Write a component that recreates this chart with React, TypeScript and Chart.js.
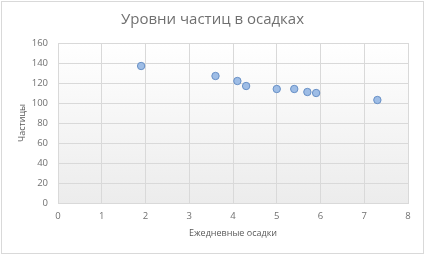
import React, { useEffect, useRef } from "react";
import { Chart, registerables } from "chart.js";

Chart.register(...registerables);

const rainfall = [1.9, 3.6, 4.1, 4.3, 5.0, 5.4, 5.7, 5.9, 7.3];
const particles = [137, 127, 122, 117, 114, 114, 111, 110, 103];
const title = "Уровни частиц в осадках";
const xTitle = "Ежедневные осадки";
const yTitle = "Частицы";

const FONT = "'Open Sans'";

const plotBg = {
  id: "plotBg",
  beforeDraw(chart: any) {
    const { ctx, chartArea } = chart;
    if (!chartArea) return;
    const g = ctx.createLinearGradient(0, chartArea.top, 0, chartArea.bottom);
    g.addColorStop(0, "#ffffff");
    g.addColorStop(1, "#ececec");
    ctx.save();
    ctx.fillStyle = g;
    ctx.fillRect(chartArea.left, chartArea.top, chartArea.right - chartArea.left, chartArea.bottom - chartArea.top);
    ctx.restore();
  },
};

export default function App() {
  const ref = useRef<HTMLCanvasElement>(null);
  useEffect(() => {
    document.body.style.margin = "0";
    const chart = new Chart(ref.current!, {
      type: "scatter",
      data: {
        datasets: [
          {
            data: rainfall.map((x, i) => ({ x, y: particles[i] })),
            pointRadius: 3.7,
            pointHoverRadius: 3.7,
            backgroundColor: "#9ebde6",
            borderColor: "#6890c6",
            borderWidth: 1,
          },
        ],
      },
      options: {
        animation: false,
        responsive: false,
        maintainAspectRatio: false,
        layout: { padding: { left: 17, right: 17, top: 0, bottom: 16 } },
        plugins: {
          legend: { display: false },
          tooltip: { enabled: false },
          title: {
            display: true,
            text: title,
            color: "#707070",
            font: { family: FONT, size: 15, weight: "normal" },
            padding: { top: 11, bottom: 14 },
            lineHeight: 1.2,
          },
        },
        scales: {
          x: {
            type: "linear",
            min: 0,
            max: 8,
            ticks: { stepSize: 1, color: "#707070", font: { family: FONT, size: 9.5 }, padding: 8 },
            grid: { color: "#d9d9d9", drawTicks: false },
            border: { color: "#d9d9d9" },
            title: { display: true, text: xTitle, color: "#595959", font: { family: FONT, size: 9 }, padding: { top: 4, bottom: 0 } },
            afterFit(scale: any) {
              scale.height = 36;
            },
          },
          y: {
            type: "linear",
            min: 0,
            max: 160,
            ticks: { stepSize: 20, color: "#707070", font: { family: FONT, size: 9.5 }, padding: 10 },
            grid: { color: "#d9d9d9", drawTicks: false },
            border: { color: "#d9d9d9" },
            title: { display: true, text: yTitle, color: "#595959", font: { family: FONT, size: 9 }, padding: { top: 0, bottom: 8 } },
            afterFit(scale: any) {
              scale.width = 41;
            },
          },
        },
      },
      plugins: [plotBg],
    });
    return () => chart.destroy();
  }, []);
  return (
    <div style={{ position: "relative", width: 425, height: 255, background: "#fff" }}>
      <canvas ref={ref} width={425} height={255} style={{ position: "absolute", left: 0, top: 0 }} />
      <div style={{ position: "absolute", left: 1, top: 1, width: 421, height: 251, border: "1px solid #d9d9d9", pointerEvents: "none" }} />
    </div>
  );
}
